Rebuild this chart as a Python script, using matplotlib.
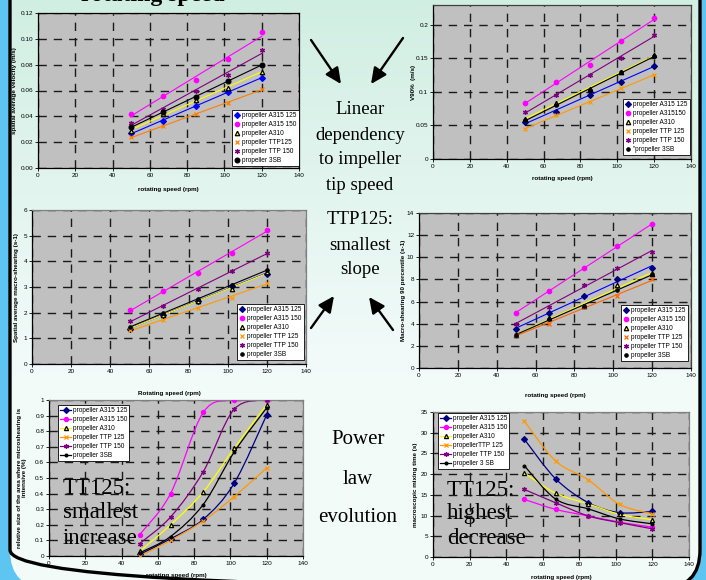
import numpy as np
import matplotlib
matplotlib.use("Agg")
import matplotlib.pyplot as plt
from matplotlib.patches import FancyBboxPatch, PathPatch
from matplotlib.path import Path
from matplotlib.lines import Line2D

plt.rcParams['font.family'] = ['Liberation Sans', 'DejaVu Sans']

W, H = 706, 580

speed = [50, 67, 85, 102, 120]

# spatial average velocity (m/s)
vel_a315_125 = [0.027, 0.0365, 0.048, 0.059, 0.070]
vel_a315_150 = [0.042, 0.056, 0.068, 0.084, 0.105]
vel_a310 = [0.0285, 0.042, 0.053, 0.062, 0.0745]
vel_ttp125 = [0.024, 0.0325, 0.0415, 0.050, 0.0615]
vel_ttp150 = [0.0345, 0.046, 0.060, 0.072, 0.091]
vel_3sb = [0.032, 0.043, 0.055, 0.0675, 0.080]

# V90% (m/s)
v90_a315_125 = [0.055, 0.070, 0.095, 0.115, 0.139]
v90_a315_150 = [0.084, 0.115, 0.140, 0.175, 0.210]
v90_a310 = [0.060, 0.084, 0.104, 0.130, 0.154]
v90_ttp125 = [0.045, 0.065, 0.085, 0.105, 0.125]
v90_ttp150 = [0.070, 0.095, 0.125, 0.150, 0.185]
v90_3sb = [0.058, 0.080, 0.102, 0.129, 0.153]

# spatial average macro-shearing (s-1)
sh_a315_125 = [1.37, 1.92, 2.46, 3.03, 3.52]
sh_a315_150 = [2.10, 2.85, 3.53, 4.33, 5.24]
sh_a310 = [1.40, 1.92, 2.44, 2.92, 3.58]
sh_ttp125 = [1.32, 1.71, 2.19, 2.59, 3.17]
sh_ttp150 = [1.68, 2.27, 2.91, 3.62, 4.33]
sh_3sb = [1.46, 1.98, 2.52, 3.07, 3.68]

# macro-shearing 90 percentile (s-1)
s90_a315_125 = [3.5, 5.0, 6.5, 8.0, 9.05]
s90_a315_150 = [5.0, 7.0, 9.0, 11.0, 13.0]
s90_a310 = [3.0, 4.5, 5.6, 7.5, 8.5]
s90_ttp125 = [3.0, 4.0, 5.5, 6.5, 8.0]
s90_ttp150 = [4.0, 5.55, 7.5, 9.0, 10.5]
s90_3sb = [3.0, 4.45, 5.6, 7.05, 8.45]

# relative size of the area where microshearing is intensive
area_a315_125 = [0.01, 0.11, 0.235, 0.465, 0.905]
area_a315_150 = [0.137, 0.40, 0.92, 1.0, 1.0]
area_a310 = [0.03, 0.20, 0.41, 0.69, 0.97]
area_ttp125 = [0.0, 0.10, 0.225, 0.38, 0.565]
area_ttp150 = [0.08, 0.25, 0.54, 0.94, 1.0]
area_3sb = [0.02, 0.125, 0.33, 0.665, 0.95]

# macroscopic mixing time (s)
mix_a315_125 = [28.4, 18.9, 13.1, 10.7, 11.0]
mix_a315_150 = [13.9, 11.5, 9.9, 8.4, 7.2]
mix_a310 = [20.3, 15.4, 12.8, 10.3, 9.0]
mix_ttp125 = [32.8, 23.2, 18.6, 12.7, 10.4]
mix_ttp150 = [16.3, 13.1, 9.9, 8.3, 6.8]
mix_3sb = [22.0, 14.0, 11.6, 9.2, 8.0]

BLUE, NAVY, MAG, YEL, ORA, PUR = '#0000ff', '#000080', '#ff00ff', '#ffff00', '#ff9900', '#800080'
STAR = (6, 2, 0)

fig = plt.figure(figsize=(W / 100, H / 100), dpi=100, facecolor='#5ec4f2')

# slide background
bg = fig.add_axes([0, 0, 1, 1], zorder=-5)
bg.set_xlim(0, W)
bg.set_ylim(H, 0)
bg.axis('off')
yy = np.linspace(0, H, 300)
top = np.array([0.82, 0.935, 0.89])
bot = np.array([0.955, 0.985, 0.98])
t = np.clip(yy / 380, 0, 1)[:, None, None]
img = top + (bot - top) * t
im = bg.imshow(img, extent=(0, W, H, 0), aspect='auto', zorder=0)
frame = FancyBboxPatch((10, -60), 690, 648, boxstyle='round,pad=0,rounding_size=38',
                       fc='none', ec='black', lw=2.4, zorder=1)
bg.add_patch(frame)
im.set_clip_path(frame)


def make_axes(x0, y0, x1, y1, edge='black'):
    ax = fig.add_axes([x0 / W, 1 - y1 / H, (x1 - x0) / W, (y1 - y0) / H])
    ax.set_facecolor('#c0c0c0')
    ax.set_axisbelow('line')
    ax.grid(True, color='#1a1a1a', lw=1.0, linestyle=(0, (6, 5)))
    for s in ax.spines.values():
        s.set_color(edge)
        s.set_linewidth(0.9)
    ax.spines['left'].set_color('black')
    ax.spines['bottom'].set_color('black')
    ax.set_xlim(0, 140)
    ax.set_xticks(range(0, 141, 20))
    ax.tick_params(labelsize=4.6, length=2, width=0.6, pad=1.5, colors='black')
    ax.pixbox = (x0, y0, x1, y1)
    return ax


def labels(ax, xlabel, ylabel, xlab_py, ylab_px):
    x0, y0, x1, y1 = ax.pixbox
    ax.set_xlabel(xlabel, fontsize=4.5, fontweight='bold')
    ax.xaxis.set_label_coords(0.5, (y1 - xlab_py) / (y1 - y0))
    ax.xaxis.label.set_va('center')
    ax.set_ylabel(ylabel, fontsize=4.5, fontweight='bold', linespacing=1.1)
    ax.yaxis.set_label_coords((ylab_px - x0) / (x1 - x0), 0.5)
    ax.yaxis.label.set_va('center')


def legend(ax, handles, names, px, py, hl=1.0):
    ax.legend(handles, names, loc='upper left', bbox_to_anchor=(px / W, 1 - py / H),
              bbox_transform=fig.transFigure, borderaxespad=0, fontsize=4.7,
              labelspacing=0.32, handlelength=hl, handletextpad=0.3, borderpad=0.3,
              fancybox=False, framealpha=1, edgecolor='black', facecolor='white')
    ax.get_legend().get_frame().set_linewidth(0.6)


def trend_panel(ax, series):
    handles = []
    for vals, lc, mk, mfc, mec, ms in series:
        coef = np.polyfit(speed, vals, 1)
        ends = [speed[0], speed[-1]]
        ax.plot(ends, np.polyval(coef, ends), color=lc, lw=0.8, zorder=2)
        ax.plot(speed, vals, linestyle='none', marker=mk, ms=ms, mfc=mfc, mec=mec,
                mew=0.9, zorder=3)
        handles.append(Line2D([], [], linestyle='none', marker=mk, ms=ms, mfc=mfc,
                              mec=mec, mew=0.9))
    return handles


def smooth_path(xs, ys):
    pts = list(zip(xs, ys))
    n = len(pts)
    verts, codes = [pts[0]], [Path.MOVETO]
    for i in range(n - 1):
        p0, p1 = pts[max(i - 1, 0)], pts[i]
        p2, p3 = pts[i + 1], pts[min(i + 2, n - 1)]
        c1 = (p1[0] + (p2[0] - p0[0]) / 6, p1[1] + (p2[1] - p0[1]) / 6)
        c2 = (p2[0] - (p3[0] - p1[0]) / 6, p2[1] - (p3[1] - p1[1]) / 6)
        verts += [c1, c2, p2]
        codes += [Path.CURVE4] * 3
    return Path(verts, codes)


def smooth_panel(ax, series):
    handles = []
    for vals, lc, mk, mfc, mec, ms in series:
        ax.add_patch(PathPatch(smooth_path(speed, vals), fill=False, ec=lc, lw=0.9, zorder=2))
        ax.plot(speed, vals, linestyle='none', marker=mk, ms=ms, mfc=mfc, mec=mec,
                mew=0.9, zorder=3)
        handles.append(Line2D([], [], color=lc, lw=0.9, marker=mk, ms=ms, mfc=mfc,
                              mec=mec, mew=0.9))
    return handles


# ---- panel 1
ax1 = make_axes(38, 13, 299, 168)
ax1.set_ylim(0, 0.12)
ax1.set_yticks(np.arange(0, 0.121, 0.02))
ax1.set_yticklabels(['%.2f' % v for v in np.arange(0, 0.121, 0.02)])
h = trend_panel(ax1, [
    (vel_a315_125, BLUE, 'D', BLUE, BLUE, 3),
    (vel_a315_150, MAG, 'o', MAG, MAG, 3.2),
    (vel_a310, YEL, '^', YEL, 'black', 3.2),
    (vel_ttp125, '#ff8000', 'x', ORA, '#ff8000', 3.2),
    (vel_ttp150, PUR, STAR, PUR, PUR, 3.6),
    (vel_3sb, 'black', 'o', 'black', 'black', 3.4),
])
legend(ax1, h, ['propeller A315 125', 'propeller A315 150', 'propeller A310',
                'propeller TTP125', 'propeller TTP 150', 'propeller 3SB'], 232, 110)
labels(ax1, 'rotating speed (rpm)', 'spatial average velocity (m/s)', 189, 15)

# ---- panel 2
ax2 = make_axes(433, 5, 691, 159, edge='#404040')
ax2.set_ylim(0, 0.229)
ax2.set_yticks([0, 0.05, 0.1, 0.15, 0.2])
ax2.set_yticklabels(['0', '0.05', '0.1', '0.15', '0.2'])
h = trend_panel(ax2, [
    (v90_a315_125, BLUE, 'D', NAVY, NAVY, 3),
    (v90_a315_150, MAG, 'o', MAG, MAG, 3.2),
    (v90_a310, YEL, '^', YEL, 'black', 3.2),
    (v90_ttp125, ORA, 'x', ORA, ORA, 3.2),
    (v90_ttp150, PUR, STAR, PUR, PUR, 3.6),
    (v90_3sb, 'black', 'o', 'black', 'black', 2.4),
])
legend(ax2, h, ['propeller A315 125', 'propeller A315150', 'propeller A310',
                'propeller TTP 125', 'propeller TTP 150', '"propeller 3SB'], 623, 99)
labels(ax2, 'rotating speed (rpm)', 'V90%  (m/s)', 179, 413)

# ---- panel 3
ax3 = make_axes(32, 210, 306, 364, edge='#808080')
ax3.set_ylim(0, 6)
ax3.set_yticks(range(0, 7))
h = trend_panel(ax3, [
    (sh_a315_125, BLUE, 'D', NAVY, NAVY, 3),
    (sh_a315_150, MAG, 'o', MAG, MAG, 3.2),
    (sh_a310, YEL, '^', YEL, 'black', 3.2),
    (sh_ttp125, ORA, 'x', ORA, ORA, 3.2),
    (sh_ttp150, PUR, STAR, PUR, PUR, 3.6),
    (sh_3sb, 'black', 'o', 'black', 'black', 2.4),
])
legend(ax3, h, ['propeller A315 125', 'propeller A315 150', 'propeller A310',
                'propeller TTP 125', 'propeller TTP 150', 'propeller 3SB'], 237, 304)
labels(ax3, 'Rotating speed (rpm)', 'Spatial average macro-shearing (s-1)', 394, 17)

# ---- panel 4
ax4 = make_axes(419, 213, 691, 368, edge='#404040')
ax4.set_ylim(0, 14)
ax4.set_yticks(range(0, 15, 2))
h = trend_panel(ax4, [
    (s90_a315_125, BLUE, 'D', NAVY, NAVY, 3),
    (s90_a315_150, MAG, 'o', MAG, MAG, 3.2),
    (s90_a310, YEL, '^', YEL, 'black', 3.2),
    (s90_ttp125, '#ff6600', 'x', '#ff6600', '#ff6600', 3.2),
    (s90_ttp150, PUR, STAR, PUR, PUR, 3.6),
    (s90_3sb, 'black', 'o', 'black', 'black', 2.4),
])
legend(ax4, h, ['propeller A315 125', 'propeller A315 150', 'propeller A310',
                'propeller TTP 125', 'propeller TTP 150', 'propeller 3SB'], 621, 305)
labels(ax4, 'rotating speed (rpm)', 'Macro-shearing 90 percentile (s-1)', 395, 403)

# ---- panel 5
ax5 = make_axes(49, 400, 303, 556, edge='#808080')
ax5.set_ylim(0, 1)
ax5.set_yticks(np.arange(0, 1.01, 0.1))
ax5.set_yticklabels(['0'] + ['%.1f' % v for v in np.arange(0.1, 0.95, 0.1)] + ['1'])
h = smooth_panel(ax5, [
    (area_a315_125, NAVY, 'D', NAVY, NAVY, 3),
    (area_a315_150, MAG, 'o', MAG, MAG, 3),
    (area_a310, YEL, '^', YEL, 'black', 3),
    (area_ttp125, ORA, 'x', ORA, ORA, 3.2),
    (area_ttp150, PUR, STAR, PUR, PUR, 3.6),
    (area_3sb, 'black', 'o', 'black', 'black', 2),
])
legend(ax5, h, ['propeller A315 125', 'propeller A315 150', 'propeller A310',
                'propeller TTP 125', 'propeller TTP 150', 'propeller 3SB'], 58, 405, hl=1.7)
labels(ax5, 'rotating speed (rpm)',
       'relative size of the area where microshearing is\nintensive (%)', 576, 22)

# ---- panel 6
ax6 = make_axes(433, 412, 689, 557, edge='#808080')
ax6.set_ylim(0, 35)
ax6.set_yticks(range(0, 36, 5))
h = smooth_panel(ax6, [
    (mix_a315_125, NAVY, 'D', NAVY, NAVY, 3),
    (mix_a315_150, MAG, 'o', MAG, MAG, 3),
    (mix_a310, YEL, '^', YEL, 'black', 3),
    (mix_ttp125, ORA, 'x', ORA, ORA, 3.2),
    (mix_ttp150, PUR, STAR, PUR, PUR, 3.6),
    (mix_3sb, 'black', 'o', 'black', 'black', 2),
])
legend(ax6, h, ['propeller A315 125', 'propeller A315 150', 'propeller A310',
                'propellerTTP 125', 'propeller TTP 150', 'propeller 3 SB'], 438, 413, hl=1.7)
labels(ax6, 'rotating speed (rpm)', 'macroscopic mixing time (s)', 577, 415)

# ---- slide texts
serif = ['Liberation Serif', 'DejaVu Serif']
bg.text(153, 1.5, 'rotating speed', family=serif, fontsize=17, fontweight='bold',
        ha='center', va='baseline', zorder=3)
for txt, y in [('Linear', 110), ('dependency', 135), ('to impeller', 160), ('tip speed', 186)]:
    bg.text(360, y, txt, family=serif, fontsize=13.5, ha='center', va='center', zorder=3)
for txt, y in [('TTP125:', 219), ('smallest', 245), ('slope', 270)]:
    bg.text(360, y, txt, family=serif, fontsize=13.5, ha='center', va='center', zorder=3)
for txt, y in [('Power', 440), ('law', 479), ('evolution', 517)]:
    bg.text(358, y, txt, family=serif, fontsize=15, ha='center', va='center', zorder=3)

for txt, y in [('TT125:', 488), ('smallest', 513), ('increase', 539)]:
    ax5.text(63, y, txt, transform=bg.transData, family=serif, fontsize=16.5,
             ha='left', va='center', zorder=1)
for txt, y in [('TT125:', 490), ('highest', 513), ('decrease', 538)]:
    ax6.text(447, y, txt, transform=bg.transData, family=serif, fontsize=16.5,
             ha='left', va='center', zorder=1)

arrow = dict(arrowstyle='-|>,head_length=0.95,head_width=0.45', color='black',
             lw=1.7, mutation_scale=10, shrinkA=0, shrinkB=0)
for tail, tip in [((311, 40), (341, 84)), ((403, 38), (371, 84)),
                  ((311, 328), (334, 296)), ((393, 330), (369, 297))]:
    bg.annotate('', xy=tip, xytext=tail, arrowprops=arrow, zorder=3)

fig.savefig('out.png', dpi=100, facecolor=fig.get_facecolor())
